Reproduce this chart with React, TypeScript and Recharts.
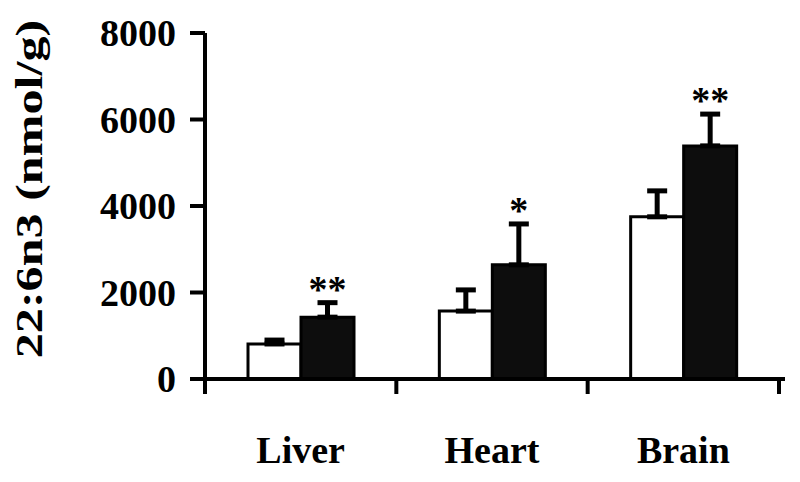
import React from 'react';
import { BarChart, Bar, XAxis, YAxis, ErrorBar, LabelList, Label } from 'recharts';

const categories = ['Liver', 'Heart', 'Brain'];
const controlValues = [810, 1570, 3750];
const controlErrors = [90, 490, 600];
const treatedValues = [1430, 2640, 5390];
const treatedErrors = [335, 945, 735];
const significance = ['**', '*', '**'];
const yTicks = [0, 2000, 4000, 6000, 8000];
const yLabel = '22:6n3 (nmol/g)';

const data = categories.map((c, i) => ({
  category: c,
  control: controlValues[i],
  controlErr: [0, controlErrors[i]],
  treated: treatedValues[i],
  treatedErr: [0, treatedErrors[i]],
  sig: significance[i],
}));

const FONT = '"Liberation Serif", "Times New Roman", Times, serif';

const XTick = (props: any) => {
  const { x, y, payload, index } = props;
  const half = payload && payload.offset > 0 ? payload.offset : 95.7;
  const isLast = index === categories.length - 1;
  return (
    <g>
      <line x1={x - half} x2={x - half} y1={y} y2={y + 15} stroke="#000" strokeWidth={4} />
      {isLast && <line x1={x + half} x2={x + half} y1={y} y2={y + 15} stroke="#000" strokeWidth={4} />}
      <text x={x} y={y + 84} textAnchor="middle" fontFamily={FONT} fontWeight="bold" fontSize={38} fill="#000">
        {payload.value}
      </text>
    </g>
  );
};

const SigLabel = (props: any) => {
  const { x, y, width, height, value, index } = props;
  const v = treatedValues[index];
  const e = treatedErrors[index];
  const pxPer = height / v;
  const errTop = y - e * pxPer;
  const cx = x + width / 2;
  return (
    <text x={cx} y={errTop - 1} textAnchor="middle" fontFamily={FONT} fontWeight="bold" fontSize={38} fill="#000">
      {value}
    </text>
  );
};

const YLabel = (props: any) => {
  const vb = props.viewBox || { x: 0, y: 33, width: 205, height: 346 };
  const cx = vb.x + 42;
  const cy = vb.y + vb.height / 2 - 17;
  return (
    <text
      transform={`translate(${cx},${cy}) rotate(-90) scale(1.32,1)`}
      x={0}
      y={0}
      textAnchor="middle"
      fontFamily={FONT}
      fontWeight="bold"
      fontSize={38}
      fill="#000"
    >
      {yLabel}
    </text>
  );
};

export default function App() {
  return (
    <div style={{ position: 'absolute', left: 0, top: 0, width: 800, height: 482, background: '#fff' }}>
      <BarChart
        width={800}
        height={482}
        data={data}
        margin={{ top: 33, right: 15, left: 0, bottom: 0 }}
        barGap={0}
        barSize={53}
      >
        <XAxis
          dataKey="category"
          height={103}
          padding={{ left: 0, right: 6 }}
          tickSize={0}
          tickMargin={0}
          tickLine={false}
          axisLine={{ stroke: '#000', strokeWidth: 4 }}
          tick={(p: any) => <XTick {...p} />}
          interval={0}
        />
        <YAxis
          width={205}
          domain={[0, 8000]}
          ticks={yTicks}
          tickSize={15}
          tickMargin={14}
          axisLine={{ stroke: '#000', strokeWidth: 4 }}
          tickLine={{ stroke: '#000', strokeWidth: 4 }}
          tick={{ fill: '#000', fontSize: 38, fontWeight: 'bold', fontFamily: FONT }}
          interval={0}
        >
          <Label content={(p: any) => <YLabel {...p} />} />
        </YAxis>
        <Bar dataKey="control" fill="#fff" stroke="#000" strokeWidth={3} isAnimationActive={false}>
          <ErrorBar dataKey="controlErr" direction="y" width={10} strokeWidth={5} stroke="#000" isAnimationActive={false} />
        </Bar>
        <Bar dataKey="treated" fill="#0d0d0d" stroke="#000" strokeWidth={3} isAnimationActive={false}>
          <ErrorBar dataKey="treatedErr" direction="y" width={10} strokeWidth={5} stroke="#000" isAnimationActive={false} />
          <LabelList dataKey="sig" content={(p: any) => <SigLabel {...p} />} />
        </Bar>
      </BarChart>
    </div>
  );
}
